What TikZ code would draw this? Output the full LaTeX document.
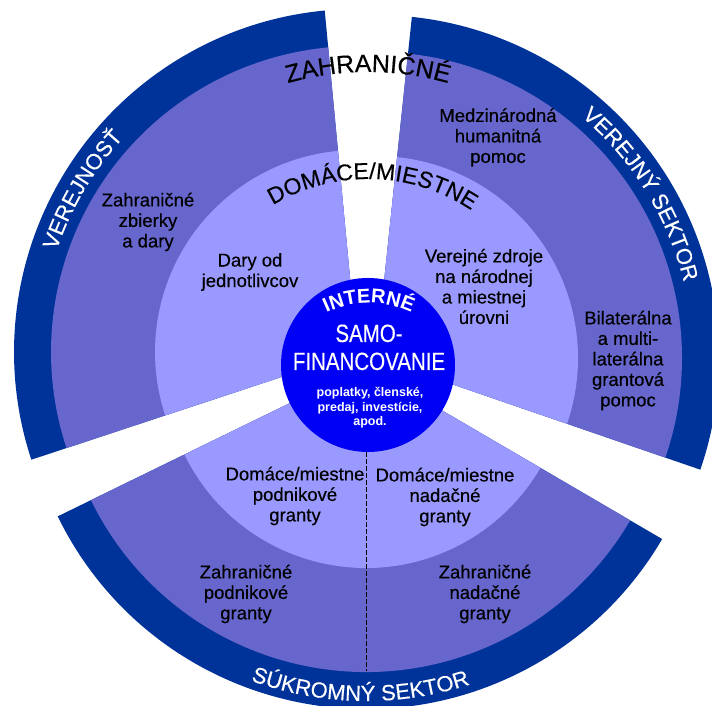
\documentclass[tikz,border=0pt]{standalone}
\usepackage{fontspec}
\setmainfont{Liberation Sans}
\newfontfamily\narrowfont[FakeStretch=0.82,FakeBold=0.3]{Liberation Sans}
\newfontfamily\bodyfont[FakeBold=0.35]{Liberation Sans}
\usetikzlibrary{decorations.text}
\definecolor{ringdark}{RGB}{0,51,153}
\definecolor{ringmid}{RGB}{102,102,204}
\definecolor{ringlight}{RGB}{153,153,255}
\definecolor{corefill}{RGB}{0,0,245}
\begin{document}
\begin{tikzpicture}[x=1pt,y=1pt,
  lbl/.style={align=center, font=\bodyfont\fontsize{18.5}{20.5}\selectfont, text=black, inner sep=0pt},
  coretxt/.style={text=white, inner sep=0pt, font=\narrowfont\fontsize{25}{28}\selectfont},
  smalltxt/.style={align=center, text=white, inner sep=0pt, font=\bfseries\fontsize{12.5}{14.5}\selectfont},
  divider/.style={draw=black, line width=0.7pt, dash pattern=on 5pt off 2pt}]
\useasboundingbox (0,0) rectangle (712,706);
\fill[white] (0,0) rectangle (712,706);
\clip (0,0) rectangle (712,706);
\coordinate (C) at (368,341);
\coordinate (L) at (357,354);
\coordinate (R) at (376,348);
\coordinate (B) at (366,340);
\coordinate (Ci) at (369,303);
% sectors
\foreach \r/\c in {343/ringdark,306/ringmid,202/ringlight}{
  \fill[\c] (L) -- ([shift={(95.4:\r)}]L) arc[start angle=95.4, end angle=198.3, radius=\r] -- cycle;
  \fill[\c] (R) -- ([shift={(-19:\r)}]R) arc[start angle=-19, end angle=84, radius=\r] -- cycle;
  \fill[\c] (B) -- ([shift={(206:\r)}]B) arc[start angle=206, end angle=329.7, radius=\r] -- cycle;
}
% core
\node[circle, fill=corefill, minimum size=174pt, inner sep=0pt] (core) at (C) {};
% divider
\coordinate (dbot) at (366,35);
\draw[divider] (core.south -| dbot) -- (dbot);
% ring labels
\path[decorate, decoration={text along path, text align=center,
  text={|\bodyfont\fontsize{25}{25}\selectfont|ZAHRANIČNÉ}}]
  ([shift={(125:293)}]C) arc[start angle=125, end angle=55, radius=293];
\path[decorate, decoration={text along path, text align=center,
  text={|\bodyfont\fontsize{23}{23}\selectfont|DOMÁCE/MIESTNE}}]
  ([shift={(148.5:186)}]C) arc[start angle=148.5, end angle=28.5, radius=186];
\path[decorate, decoration={text along path, text align=center,
  text={|\bfseries\fontsize{20}{20}\selectfont\color{white}|INTERNÉ}}]
  ([shift={(150:100)}]Ci) arc[start angle=150, end angle=30, radius=100];
\path[decorate, decoration={text along path, text align=center,
  text={|\bodyfont\fontsize{22}{22}\selectfont\color{white}|VEREJNOSŤ}}]
  ([shift={(199.4:317)}]L) arc[start angle=199.4, end angle=99.4, radius=317];
\path[decorate, decoration={text along path, text align=center,
  text={|\bodyfont\fontsize{22}{22}\selectfont\color{white}|VEREJNÝ SEKTOR}}]
  ([shift={(81.7:317)}]R) arc[start angle=81.7, end angle=-18.3, radius=317];
\path[decorate, decoration={text along path, text align=center,
  text={|\bodyfont\fontsize{22}{22}\selectfont\color{white}|SÚKROMNÝ SEKTOR}}]
  ([shift={(219:335)}]B) arc[start angle=219, end angle=319, radius=335];
% core text
\node[coretxt, anchor=base] (samo) at (369,364) {SAMO-};
\node[coretxt, anchor=base] (fin) at (369,336) {FINANCOVANIE};
\node[smalltxt] (fees) at (370,298) {poplatky, členské,\\predaj, investície,\\apod.};
% sector labels
\node[lbl] (zbierky) at (148,484) {Zahraničné\\zbierky\\a dary};
\node[lbl] (jednotl) at (250,434) {Dary od\\jednotlivcov};
\node[lbl] (humanit) at (498,568.5) {Medzinárodná\\humanitná\\pomoc};
\node[lbl] (verejne) at (484,419.5) {Verejné zdroje\\na národnej\\a miestnej\\úrovni};
\node[lbl] (bilat) at (628,345.5) {Bilaterálna\\a multi-\\laterálna\\grantová\\pomoc};
\node[lbl] (dompodn) at (295,210) {Domáce/miestne\\podnikové\\granty};
\node[lbl] (domnad) at (445,209) {Domáce/miestne\\nadačné\\granty};
\node[lbl] (zahpodn) at (246,112) {Zahraničné\\podnikové\\granty};
\node[lbl] (zahnad) at (485,112) {Zahraničné\\nadačné\\granty};
\end{tikzpicture}
\end{document}
